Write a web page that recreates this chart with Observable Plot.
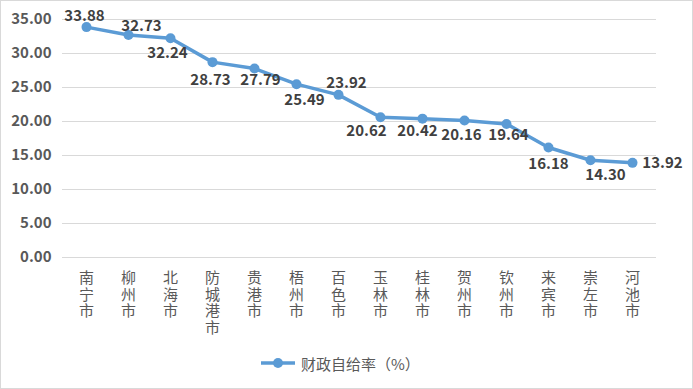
<!DOCTYPE html>
<html>
<head>
<meta charset="utf-8">
<script src="https://cdn.jsdelivr.net/npm/d3@7"></script>
<script src="https://cdn.jsdelivr.net/npm/@observablehq/plot@0.6"></script>
<style>
  html, body { margin: 0; padding: 0; background: #fff; }
  #wrap { position: relative; width: 693px; height: 389px; overflow: hidden; font-family: 'Noto Sans CJK SC', sans-serif; }
  #frame { position: absolute; left: 0; top: 0; width: 693px; height: 389px; box-sizing: border-box; border: 1px solid #d9d9d9; pointer-events: none; }
  #legend { position: absolute; left: 260px; top: 352px; height: 22px; display: flex; align-items: center; font-size: 15px; color: #595959; }
  #legend svg { margin-right: 5px; }
</style>
</head>
<body>
<div id="wrap">
  <div id="chart"></div>
  <div id="legend"></div>
  <div id="frame"></div>
</div>
<script>
const cities = ["南宁市","柳州市","北海市","防城港市","贵港市","梧州市","百色市","玉林市","桂林市","贺州市","钦州市","来宾市","崇左市","河池市"];
const ratios = [33.88, 32.73, 32.24, 28.73, 27.79, 25.49, 23.92, 20.62, 20.42, 20.16, 19.64, 16.18, 14.30, 13.92];
const yTicks = [0, 5, 10, 15, 20, 25, 30, 35];
const seriesName = "财政自给率（%）";

const lineColor = "#5b9bd5";
// label nudges (style only)
const nudgeDx = [-2, 13, -3, -2, 6, 8, 8, -14, -5, -3, 2, 0, 15, 30];
const nudgeDy = [-11, -9, 15, 18, 12, 16, -12, 14, 13, 15, 11, 17, 15, 0];

const rows = cities.map((c, i) => ({city: c, v: ratios[i]}));

const labelMarks = rows.map((d, i) => Plot.text([d], {
  x: "city", y: "v", text: r => r.v.toFixed(2),
  dx: nudgeDx[i], dy: nudgeDy[i],
  fontSize: 15, fontWeight: "bold", fill: "#404040"
}));

const chart = Plot.plot({
  width: 693,
  height: 335,
  marginLeft: 62,
  marginRight: 37,
  marginTop: 19,
  marginBottom: 78,
  style: {fontFamily: "'Noto Sans CJK SC', sans-serif", fontSize: "15px", overflow: "visible", background: "transparent"},
  x: {type: "point", domain: cities, padding: 0.5},
  y: {domain: [0, 35]},
  marks: [
    Plot.gridY(yTicks, {stroke: "#d9d9d9", strokeOpacity: 1, strokeWidth: 1}),
    Plot.axisY(yTicks, {tickSize: 0, tickPadding: 11, tickFormat: d => d.toFixed(2), fontSize: 15, fontWeight: "bold", color: "#595959", label: null}),
    Plot.axisX({tickSize: 0, tickPadding: 14, tickFormat: d => d.split("").join("\n"), fontSize: 15, lineHeight: 1.1, color: "#595959", label: null}),
    Plot.line(rows, {x: "city", y: "v", stroke: lineColor, strokeWidth: 3.5}),
    Plot.dot(rows, {x: "city", y: "v", r: 5, fill: lineColor, stroke: "none"}),
    ...labelMarks
  ]
});
document.getElementById("chart").appendChild(chart);

const legend = document.getElementById("legend");
legend.innerHTML = `<svg width="36" height="12"><line x1="1" y1="6" x2="35" y2="6" stroke="${lineColor}" stroke-width="3.5"/><circle cx="18" cy="6" r="5" fill="${lineColor}"/></svg><span>${seriesName}</span>`;
</script>
</body>
</html>
